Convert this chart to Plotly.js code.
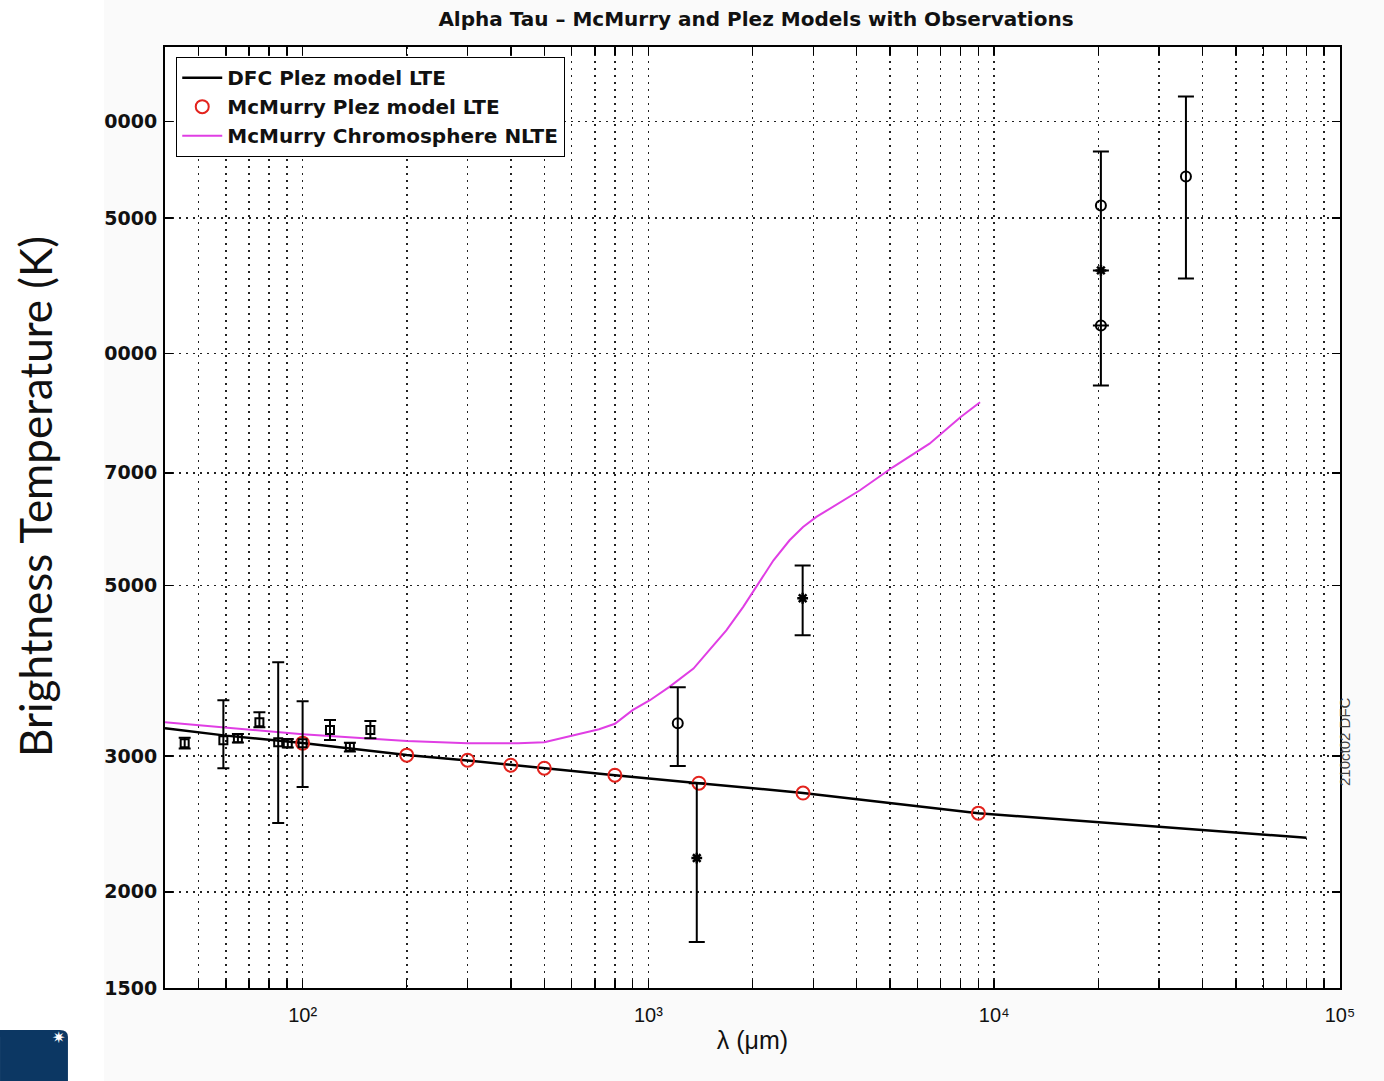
<!DOCTYPE html>
<html>
<head>
<meta charset="utf-8">
<script src="https://cdn.plot.ly/plotly-3.0.1.min.js"></script>
<style>html,body{margin:0;padding:0;background:#fff;}#chart{width:1384px;height:1081px;}</style>
</head>
<body>
<div id="chart"></div>
<script>
// ---- data ----
const dfcX = [40, 60, 100, 200, 300, 500, 800, 1400, 2800, 9000, 20000, 80000];
const dfcY = [3260, 3190, 3120, 3010, 2962, 2893, 2834, 2767, 2688, 2530, 2463, 2350];

const mcmX = [100, 200, 300, 400, 500, 800, 1400, 2800, 9000];
const mcmY = [3119, 3009, 2964, 2920, 2894, 2834, 2767, 2687, 2530];

const chromX = [40, 100, 200, 300, 420, 500, 720, 800, 900, 1010, 1150, 1350, 1500, 1680, 1880, 2050, 2300, 2560, 2800, 3060, 4090, 5100, 6500, 8000, 9100];
const chromY = [3320, 3204, 3138, 3119, 3119, 3128, 3252, 3305, 3442, 3546, 3690, 3898, 4118, 4371, 4688, 4976, 5388, 5721, 5953, 6134, 6643, 7121, 7636, 8271, 8645];

const obsSqX  = [45.6, 59, 65, 75, 85, 90.6, 100, 120, 137, 157];
const obsSqY  = [3119, 3147, 3166, 3321, 3128, 3119, 3119, 3243, 3083, 3243];
const obsSqUp = [50, 399, 40, 100, 845, 40, 416, 100, 40, 90];
const obsSqDn = [50, 253, 40, 50, 672, 40, 384, 95, 40, 77];

const obsCircX  = [1216, 20350, 20350, 35850];
const obsCircY  = [3311, 15560, 10870, 16970];
const obsCircUp = [376, 2730, 0, 4590];
const obsCircDn = [398, 6475, 0, 4460];

const obsStarX  = [1380, 2793, 20350];
const obsStarY  = [2212, 4810, 12820];
const obsStarUp = [555, 495, 0];
const obsStarDn = [491, 504, 0];

const xMajorVals = [100, 1000, 10000, 100000];
const xMajorText = ['10\u00b2', '10\u00b3', '10\u2074', '10\u2075'];
const xMinorVals = [50,60,70,80,90,200,300,400,500,600,700,800,900,2000,3000,4000,5000,6000,7000,8000,9000,20000,30000,40000,50000,60000,70000,80000,90000];
const yTickVals = [1500, 2000, 3000, 5000, 7000, 10000, 15000, 20000];
const yTickText = ['1500', '2000', '3000', '5000', '7000', '10000', '15000', '20000'];

const chartTitle = 'Alpha Tau \u2013 McMurry and Plez Models with Observations';
const legendNames = ['DFC Plez model LTE', 'McMurry Plez model LTE', 'McMurry Chromosphere NLTE'];

// ---- plot ----
const F = 'Liberation Sans, Arial, sans-serif';
const FB = 'DejaVu Sans, Liberation Sans, sans-serif';
const errStyle = (up, dn, w) => ({type:'data', symmetric:false, array:up, arrayminus:dn, color:'#000', thickness:2, width:w, visible:true});

const traces = [
  {x: dfcX, y: dfcY, mode:'lines', name: legendNames[0], line:{color:'#000', width:2.5}},
  {x: mcmX, y: mcmY, mode:'markers', name: legendNames[1], marker:{symbol:'circle-open', size:13, color:'#e3231d', line:{width:2, color:'#e3231d'}}},
  {x: chromX, y: chromY, mode:'lines', name: legendNames[2], line:{color:'#e03ee4', width:2}},
  {x: obsSqX, y: obsSqY, mode:'markers', showlegend:false, marker:{symbol:'square-open', size:8, color:'#000', line:{width:2, color:'#000'}}, error_y: errStyle(obsSqUp, obsSqDn, 6)},
  {x: obsCircX, y: obsCircY, mode:'markers', showlegend:false, marker:{symbol:'circle-open', size:10, color:'#000', line:{width:2, color:'#000'}}, error_y: errStyle(obsCircUp, obsCircDn, 8)},
  {x: obsStarX, y: obsStarY, mode:'markers', showlegend:false, marker:{symbol:'asterisk-open', size:9, color:'#000', line:{width:2.5, color:'#000'}}, error_y: errStyle(obsStarUp, obsStarDn, 8)}
];

const gridStyle = {showgrid:true, gridcolor:'#222', gridwidth:1.6, griddash:'2px,5px'};
const axisCommon = Object.assign({
  type:'log', showline:true, linecolor:'#000', linewidth:2, mirror:'allticks',
  ticks:'inside', ticklen:8, tickwidth:1.5, tickcolor:'#000',
  zeroline:false, tickmode:'array'
}, gridStyle);

const layout = {
  width:1384, height:1081,
  paper_bgcolor:'#fafafa', plot_bgcolor:'#ffffff',
  margin:{l:165, r:44, t:47, b:93},
  font:{family:F, color:'#111'},
  title:{text: chartTitle, font:{family:FB, size:20, weight:'bold', color:'#111'}, x:756/1384, xanchor:'center', y:1-19/1081, yanchor:'middle', yref:'container'},
  xaxis: Object.assign({}, axisCommon, {
    range:[Math.log10(40), 5], tickvals:xMajorVals, ticktext:xMajorText,
    minor:Object.assign({tickmode:'array', tickvals:xMinorVals, ticks:'inside', ticklen:8, tickwidth:1.5, tickcolor:'#000'}, gridStyle),
    tickfont:{family:F, size:20, color:'#111'}, ticklabelstandoff:8,
    title:{text:'\u03bb (\u03bcm)', font:{family:F, size:25, color:'#111'}, standoff:6}
  }),
  yaxis: Object.assign({}, axisCommon, {
    range:[Math.log10(1500), Math.log10(25000)], tickvals:yTickVals, ticktext:yTickText,
    tickfont:{family:FB, size:19, weight:'bold', color:'#111'}, ticklabelstandoff:2
  }),
  showlegend:true,
  legend:{x:0.0094, y:0.9894, xanchor:'left', yanchor:'top', bgcolor:'#fff', bordercolor:'#000', borderwidth:1.2,
          font:{family:FB, size:20, weight:'bold', color:'#111'}, tracegroupgap:0, itemwidth:40},
  shapes:[
    {type:'rect', xref:'paper', yref:'paper', x0:-0.2, x1:(104-165)/1175, y0:-0.12, y1:1.08, fillcolor:'#ffffff', line:{width:0}, layer:'above'},
    {type:'path', xref:'paper', yref:'paper',
     path:'M -0.1404,-0.0446 L -0.0895,-0.0446 Q -0.0826,-0.0446 -0.0826,-0.052 L -0.0826,-0.0988 L -0.1404,-0.0988 Z',
     fillcolor:'#0c3763', line:{width:0}, layer:'above'}
  ],
  annotations:[
    {text:'Brightness Temperature (K)', xref:'paper', yref:'paper', x:(35-165)/1175, y:(988-497)/941, textangle:-90,
     showarrow:false, xanchor:'center', yanchor:'middle', font:{family:'Lato, Noto Sans, sans-serif', size:44, color:'#111'}},
    {text:'210ct02 DFC', xref:'paper', yref:'paper', x:(1344-165)/1175, y:(988-742)/941, textangle:-90,
     showarrow:false, xanchor:'center', yanchor:'middle', font:{family:F, size:15, color:'#444'}},
    {text:'\u2737', xref:'paper', yref:'paper', x:(50-165)/1175, y:(988-1049)/941, showarrow:false,
     font:{family:'DejaVu Sans', size:16, color:'#ffffff'}}
  ]
};

Plotly.newPlot('chart', traces, layout, {displayModeBar:false, staticPlot:true});
</script>
</body>
</html>
